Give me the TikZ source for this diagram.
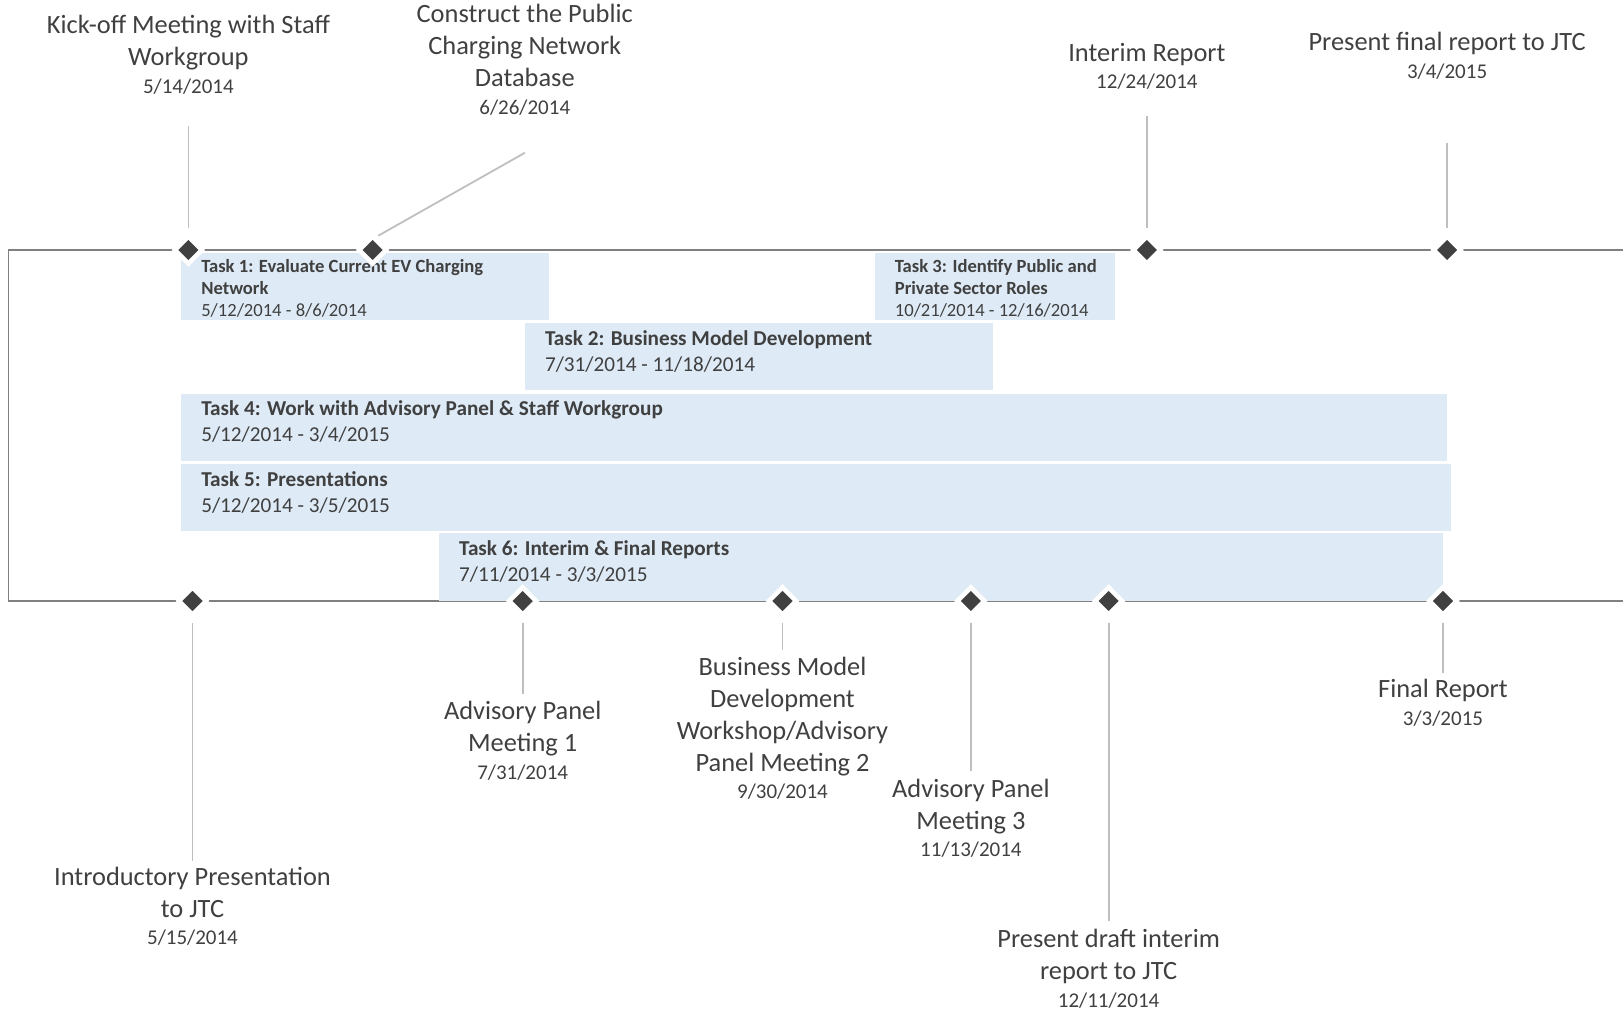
\documentclass[tikz,border=0pt]{standalone}
\usepackage{fontspec}
\setmainfont{Carlito}
\usepackage{tikz}
\usetikzlibrary{shapes.geometric, backgrounds}

\definecolor{txtgray}{HTML}{404040}
\definecolor{axisgray}{HTML}{808080}
\definecolor{stemgray}{HTML}{BFBFBF}
\definecolor{taskblue}{HTML}{DEEAF6}

\begin{document}
\begin{tikzpicture}[
    x=1pt, y=1pt,
    axis/.style={draw=axisgray, line width=1.6pt},
    stem/.style={draw=stemgray, line width=1.8pt, shorten <=5pt},
    msdia/.style={diamond, fill=txtgray, draw=white, line width=4.6pt,
                  minimum size=29pt, inner sep=0pt},
    ttl/.style={align=center, inner sep=0pt, anchor=south, text=txtgray,
                font=\fontsize{26.4}{32}\selectfont},
    dte/.style={inner sep=0pt, anchor=base, text=txtgray,
                font=\fontsize{21}{26}\selectfont},
    tskbox/.style={fill=taskblue, anchor=north west, inner sep=0pt},
    tsktxt/.style={anchor=north west, align=left, inner xsep=20pt,
                   inner ysep=4pt, text=txtgray,
                   font=\fontsize{21.2}{26}\selectfont},
    tsksmall/.style={tsktxt, font=\fontsize{18.6}{22}\selectfont}
  ]
  \useasboundingbox (0,0) rectangle (1623,-1012);

  % task bars
  \node[tskbox, minimum width=367.5pt, minimum height=67.2pt] (t1) at (181.1,-252.6) {};
  \node[tskbox, minimum width=240.1pt, minimum height=67.2pt] (t3) at (874.7,-252.6) {};
  \node[tskbox, minimum width=467.9pt, minimum height=67.2pt] (t2) at (524.8,-323) {};
  \node[tskbox, minimum width=1266pt, minimum height=67.3pt] (t4) at (181.1,-393.3) {};
  \node[tskbox, minimum width=1270.1pt, minimum height=67.3pt] (t5) at (181.1,-463.7) {};
  \node[tskbox, minimum width=1004.1pt, minimum height=67.7pt] (t6) at (438.9,-533) {};

  \node[tsksmall] (t1txt) at (t1.north west)
    {\strut\textbf{Task 1: Evaluate Current EV Charging}\\\textbf{Network}\\5/12/2014 - 8/6/2014};
  \node[tsksmall] (t3txt) at (t3.north west)
    {\strut\textbf{Task 3: Identify Public and}\\\textbf{Private Sector Roles}\\10/21/2014 - 12/16/2014};
  \node[tsktxt] (t2txt) at (t2.north west)
    {\strut\textbf{Task 2: Business Model Development}\\7/31/2014 - 11/18/2014};
  \node[tsktxt] (t4txt) at (t4.north west)
    {\strut\textbf{Task 4: Work with Advisory Panel \& Staff Workgroup}\\5/12/2014 - 3/4/2015};
  \node[tsktxt] (t5txt) at (t5.north west)
    {\strut\textbf{Task 5: Presentations}\\5/12/2014 - 3/5/2015};
  \node[tsktxt] (t6txt) at (t6.north west)
    {\strut\textbf{Task 6: Interim \& Final Reports}\\7/11/2014 - 3/3/2015};

  % milestones above
  \node[msdia] (kick) at (188.4,-250) {};
  \node[msdia] (cons) at (372.6,-250) {};
  \node[msdia] (intrm) at (1146.9,-250) {};
  \node[msdia] (presfin) at (1447.1,-250) {};
  % milestones below
  \node[msdia] (intro) at (192.5,-601) {};
  \node[msdia] (adv1) at (522.7,-601) {};
  \node[msdia] (bmw) at (782.5,-601) {};
  \node[msdia] (adv3) at (970.9,-601) {};
  \node[msdia] (draft) at (1108.6,-601) {};
  \node[msdia] (fnl) at (1443,-601) {};

  % labels above
  \node[ttl] (kicklbl) at (188.4,-75.1) {Kick-off Meeting with Staff\\Workgroup\strut};
  \node[dte] (kickdate) at (188.4,-93) {5/14/2014};
  \node[ttl] (conslbl) at (524.8,-96.6) {Construct the Public\\Charging Network\\Database\strut};
  \node[dte] (consdate) at (524.8,-114.5) {6/26/2014};
  \node[ttl] (intrmlbl) at (1146.9,-70.9) {Interim Report\strut};
  \node[dte] (intrmdate) at (1146.9,-88.7) {12/24/2014};
  \node[ttl] (presfinlbl) at (1447.1,-60.6) {Present final report to JTC\strut};
  \node[dte] (presfindate) at (1447.1,-78.3) {3/4/2015};

  % labels below
  \node[ttl] (introlbl) at (192.5,-927) {Introductory Presentation\\to JTC\strut};
  \node[dte] (introdate) at (192.5,-944.7) {5/15/2014};
  \node[ttl] (adv1lbl) at (522.7,-761.3) {Advisory Panel\\Meeting 1\strut};
  \node[dte] (adv1date) at (522.7,-779) {7/31/2014};
  \node[ttl] (bmwlbl) at (782.5,-781) {Business Model\\Development\\Workshop/Advisory\\Panel Meeting 2\strut};
  \node[dte] (bmwdate) at (782.5,-798.8) {9/30/2014};
  \node[ttl] (adv3lbl) at (970.9,-839) {Advisory Panel\\Meeting 3\strut};
  \node[dte] (adv3date) at (970.9,-856.7) {11/13/2014};
  \node[ttl] (draftlbl) at (1108.6,-989.1) {Present draft interim\\report to JTC\strut};
  \node[dte] (draftdate) at (1108.6,-1007) {12/11/2014};
  \node[ttl] (fnllbl) at (1443,-707.5) {Final Report\strut};
  \node[dte] (fnldate) at (1443,-725.3) {3/3/2015};

  % stem ends
  \coordinate (kickend) at (188.4,-126);
  \coordinate (consend) at (525,-152.7);
  \coordinate (consfoot) at (378.3,-235.7);
  \coordinate (intrmend) at (1146.9,-116);
  \coordinate (presfinend) at (1447.1,-143);
  \coordinate (introend) at (192.5,-861);
  \coordinate (adv1end) at (522.7,-693.5);
  \coordinate (bmwend) at (782.5,-650);
  \coordinate (adv3end) at (970.9,-771);
  \coordinate (draftend) at (1108.6,-921);
  \coordinate (fnlend) at (1443,-673);

  \begin{scope}[on background layer]
    \draw[axis] (1623,-250) -- (8.5,-250) -- (8.5,-601) -- (1623,-601);
    \draw[stem] (kick) -- (kickend);
    \draw[stem, shorten <=0pt] (consfoot) -- (consend);
    \draw[stem] (intrm) -- (intrmend);
    \draw[stem] (presfin) -- (presfinend);
    \draw[stem] (intro) -- (introend);
    \draw[stem] (adv1) -- (adv1end);
    \draw[stem] (bmw) -- (bmwend);
    \draw[stem] (adv3) -- (adv3end);
    \draw[stem] (draft) -- (draftend);
    \draw[stem] (fnl) -- (fnlend);
  \end{scope}
\end{tikzpicture}
\end{document}
